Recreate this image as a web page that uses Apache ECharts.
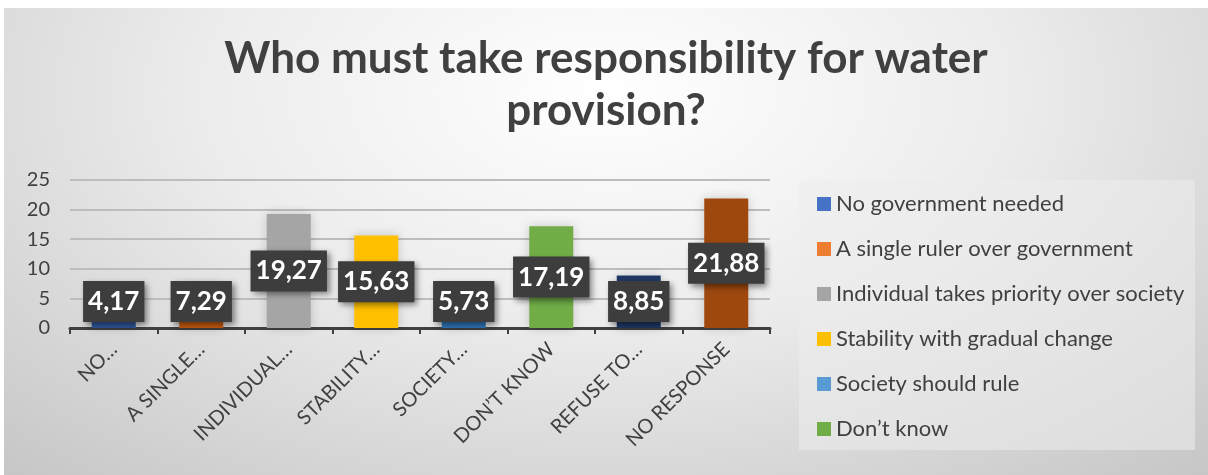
<!DOCTYPE html>
<html>
<head>
<meta charset="utf-8">
<script src="https://cdn.jsdelivr.net/npm/echarts@6/dist/echarts.min.js"></script>
<style>
  html, body { margin: 0; padding: 0; background: #ffffff; }
  #wrap {
    position: absolute; left: 4px; top: 8px; width: 1204px; height: 467px;
    background: radial-gradient(ellipse 75% 110% at 50% 18%, #ffffff 0%, #ececec 45%, #c6c6c6 100%);
  }
  #chart { width: 1204px; height: 467px; }
</style>
</head>
<body>
<div id="wrap"><div id="chart"></div></div>
<script>
// Survey answers, one bar per answer
const categories = [
  'No government needed',
  'A single ruler over government',
  'Individual takes priority over society',
  'Stability with gradual change',
  'Society should rule',
  'Don’t know',
  'Refuse to answer',
  'No response'
];
const tickLabels = ['NO…', 'A SINGLE…', 'INDIVIDUAL…', 'STABILITY…', 'SOCIETY…', 'DON’T KNOW', 'REFUSE TO…', 'NO RESPONSE'];
const values = [4.17, 7.29, 19.27, 15.63, 5.73, 17.19, 8.85, 21.88];
const yTicks = [0, 5, 10, 15, 20, 25];
const legendCount = 6;

const barColors = ['#2F5597', '#C55A11', '#A5A5A5', '#FFC000', '#2E75B6', '#70AD47', '#203864', '#9E480E'];
const legendColors = ['#4472C4', '#ED7D31', '#A5A5A5', '#FFC000', '#5B9BD5', '#70AD47'];

const TEXT = '#404040';
const FONT = 'Lato';
const grid = { left: 66, right: 438, top: 172, bottom: 147 };
const plotHeight = 467 - grid.top - grid.bottom;
const yMax = yTicks[yTicks.length - 1];
const boxHeight = 41, boxGap = 6;

function fmt(v) { return v.toFixed(2).replace('.', ','); }

const chart = echarts.init(document.getElementById('chart'), null, { renderer: 'canvas' });

const series = categories.map((name, i) => {
  // short bars: keep the value box sitting just above the axis
  const barPx = values[i] * plotHeight / yMax;
  const low = barPx / 2 < boxHeight / 2 + boxGap;
  return {
    name: name,
    type: 'bar',
    stack: 'all',
    barWidth: 44,
    data: values.map((v, j) => (j === i ? v : '-')),
    itemStyle: { color: barColors[i], shadowColor: 'rgba(0,0,0,0.18)', shadowBlur: 10 },
    label: {
      show: true,
      position: low ? 'insideBottom' : 'inside',
      distance: boxGap,
      formatter: p => fmt(p.value),
      color: '#ffffff',
      fontFamily: FONT,
      fontWeight: 'bold',
      fontSize: 26,
      lineHeight: 26,
      backgroundColor: '#3d3d3d',
      padding: [8, 5, 7, 5],
      shadowColor: 'rgba(0,0,0,0.45)',
      shadowBlur: 6,
      shadowOffsetX: 3,
      shadowOffsetY: 3
    }
  };
});

chart.setOption({
  animation: false,
  title: {
    text: 'Who must take responsibility for water\nprovision?',
    left: 'center',
    top: 20,
    textStyle: { fontFamily: FONT, fontWeight: 'bold', fontSize: 44, lineHeight: 52, color: TEXT }
  },
  graphic: [{
    type: 'rect',
    left: 795, top: 172,
    shape: { width: 396, height: 270 },
    style: { fill: 'rgba(236,236,236,0.55)' },
    silent: true, z: 0
  }],
  legend: {
    orient: 'vertical',
    left: 795 + 13,
    top: 172 + 8,
    itemWidth: 14,
    itemHeight: 14,
    itemGap: 23,
    icon: 'rect',
    textStyle: { fontFamily: FONT, fontSize: 22, lineHeight: 22, color: TEXT },
    data: categories.slice(0, legendCount).map((n, i) => ({ name: n, itemStyle: { color: legendColors[i] } }))
  },
  grid: grid,
  xAxis: {
    type: 'category',
    data: categories,
    boundaryGap: true,
    axisLine: { lineStyle: { color: TEXT, width: 3 } },
    axisTick: { show: true, length: 6, lineStyle: { color: TEXT, width: 2 } },
    axisLabel: {
      interval: 0,
      rotate: 45,
      margin: 18,
      fontFamily: FONT,
      fontSize: 20,
      color: TEXT,
      formatter: (v, i) => tickLabels[i]
    }
  },
  yAxis: {
    type: 'value',
    min: yTicks[0],
    max: yMax,
    interval: yTicks[1] - yTicks[0],
    axisLine: { show: false },
    axisTick: { show: false },
    axisLabel: { fontFamily: FONT, fontSize: 20, color: TEXT, margin: 20 },
    splitLine: { lineStyle: { color: '#bdbdbd', width: 2 } }
  },
  series: series
});
</script>
</body>
</html>
